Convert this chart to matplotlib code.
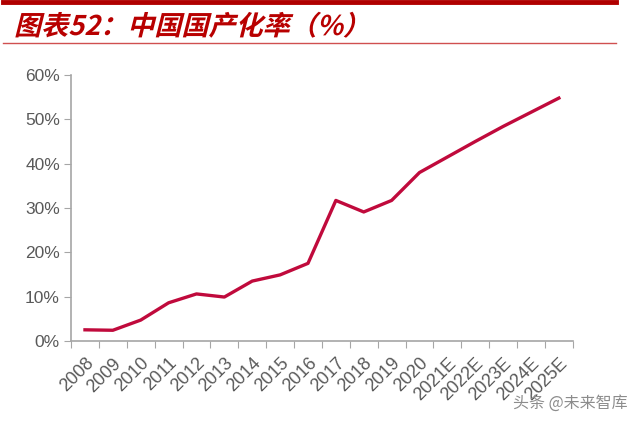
import matplotlib
matplotlib.use('Agg')
import matplotlib.pyplot as plt
from matplotlib.ticker import FuncFormatter
from matplotlib.lines import Line2D
from matplotlib.textpath import TextPath
from matplotlib.font_manager import FontProperties
from matplotlib.patches import PathPatch
from matplotlib.transforms import Affine2D

plt.rcParams['font.family'] = ['Liberation Sans', 'Noto Sans CJK SC', 'DejaVu Sans']

# 数据
years = ['2008', '2009', '2010', '2011', '2012', '2013', '2014', '2015', '2016',
         '2017', '2018', '2019', '2020', '2021E', '2022E', '2023E', '2024E', '2025E']
rate = [2.5, 2.4, 4.7, 8.6, 10.6, 9.9, 13.5, 14.9, 17.5,
        31.7, 29.1, 31.7, 38.0, 41.5, 45.0, 48.4, 51.6, 54.8]
title = '图表52：中国国产化率（%）'

gray = '#595959'
red = '#C00A3C'
DPI = 100

fig = plt.figure(figsize=(6.4, 4.24), dpi=DPI)
ax = fig.add_axes([0.111, 0.196, 0.784, 0.627])

x = list(range(len(years)))
ax.plot(x, [v / 100 for v in rate], color=red, linewidth=2.4, solid_joinstyle='round')

ax.set_xlim(-0.5, len(years) - 0.5)
ax.set_ylim(0, 0.6)
ax.set_yticks([0, 0.1, 0.2, 0.3, 0.4, 0.5, 0.6])
ax.yaxis.set_major_formatter(FuncFormatter(lambda v, p: f'{v*100:.0f}%'))

# x轴刻度在类别之间
ax.set_xticks([i - 0.5 for i in range(len(years) + 1)])
ax.set_xticklabels([])
ax.set_xticks(x, minor=True)
ax.set_xticklabels(years, minor=True, rotation=45, ha='right', va='top',
                   rotation_mode='anchor', fontsize=13, color=gray)
ax.tick_params(axis='x', which='minor', length=0, pad=10)
ax.tick_params(axis='x', which='major', length=5, color='#A6A6A6', direction='out')
ax.tick_params(axis='y', length=5, color='#A6A6A6', direction='out',
               labelsize=12.5, labelcolor=gray, pad=3)

for s in ['top', 'right']:
    ax.spines[s].set_visible(False)
for s in ['left', 'bottom']:
    ax.spines[s].set_color('#A6A6A6')
    ax.spines[s].set_linewidth(1.2)

# 标题和分隔线
fig.add_artist(Line2D([0.005, 0.963], [0.995, 0.995], color='#B00000', linewidth=3.5))
fig.add_artist(Line2D([0.005, 0.963], [0.898, 0.898], color='#D05050', linewidth=1))

# 斜体标题（CJK字体没有斜体，用错切变换）
fp = FontProperties(family='Noto Sans CJK SC', weight='bold')
tp = TextPath((0, 0), title, size=19.5, prop=fp)
tr = Affine2D().skew_deg(14, 0).scale(DPI / 72).translate(14, 424 - 35)
fig.add_artist(PathPatch(tp, transform=tr, color='#B80000', lw=0))

# 水印
fig.text(0.98, 0.05, '头条 @未来智库', fontsize=11.5, color='#8C8C8C', ha='right',
         va='center', family=['Noto Sans CJK SC', 'DejaVu Sans'])

fig.savefig('out.png', dpi=DPI)
